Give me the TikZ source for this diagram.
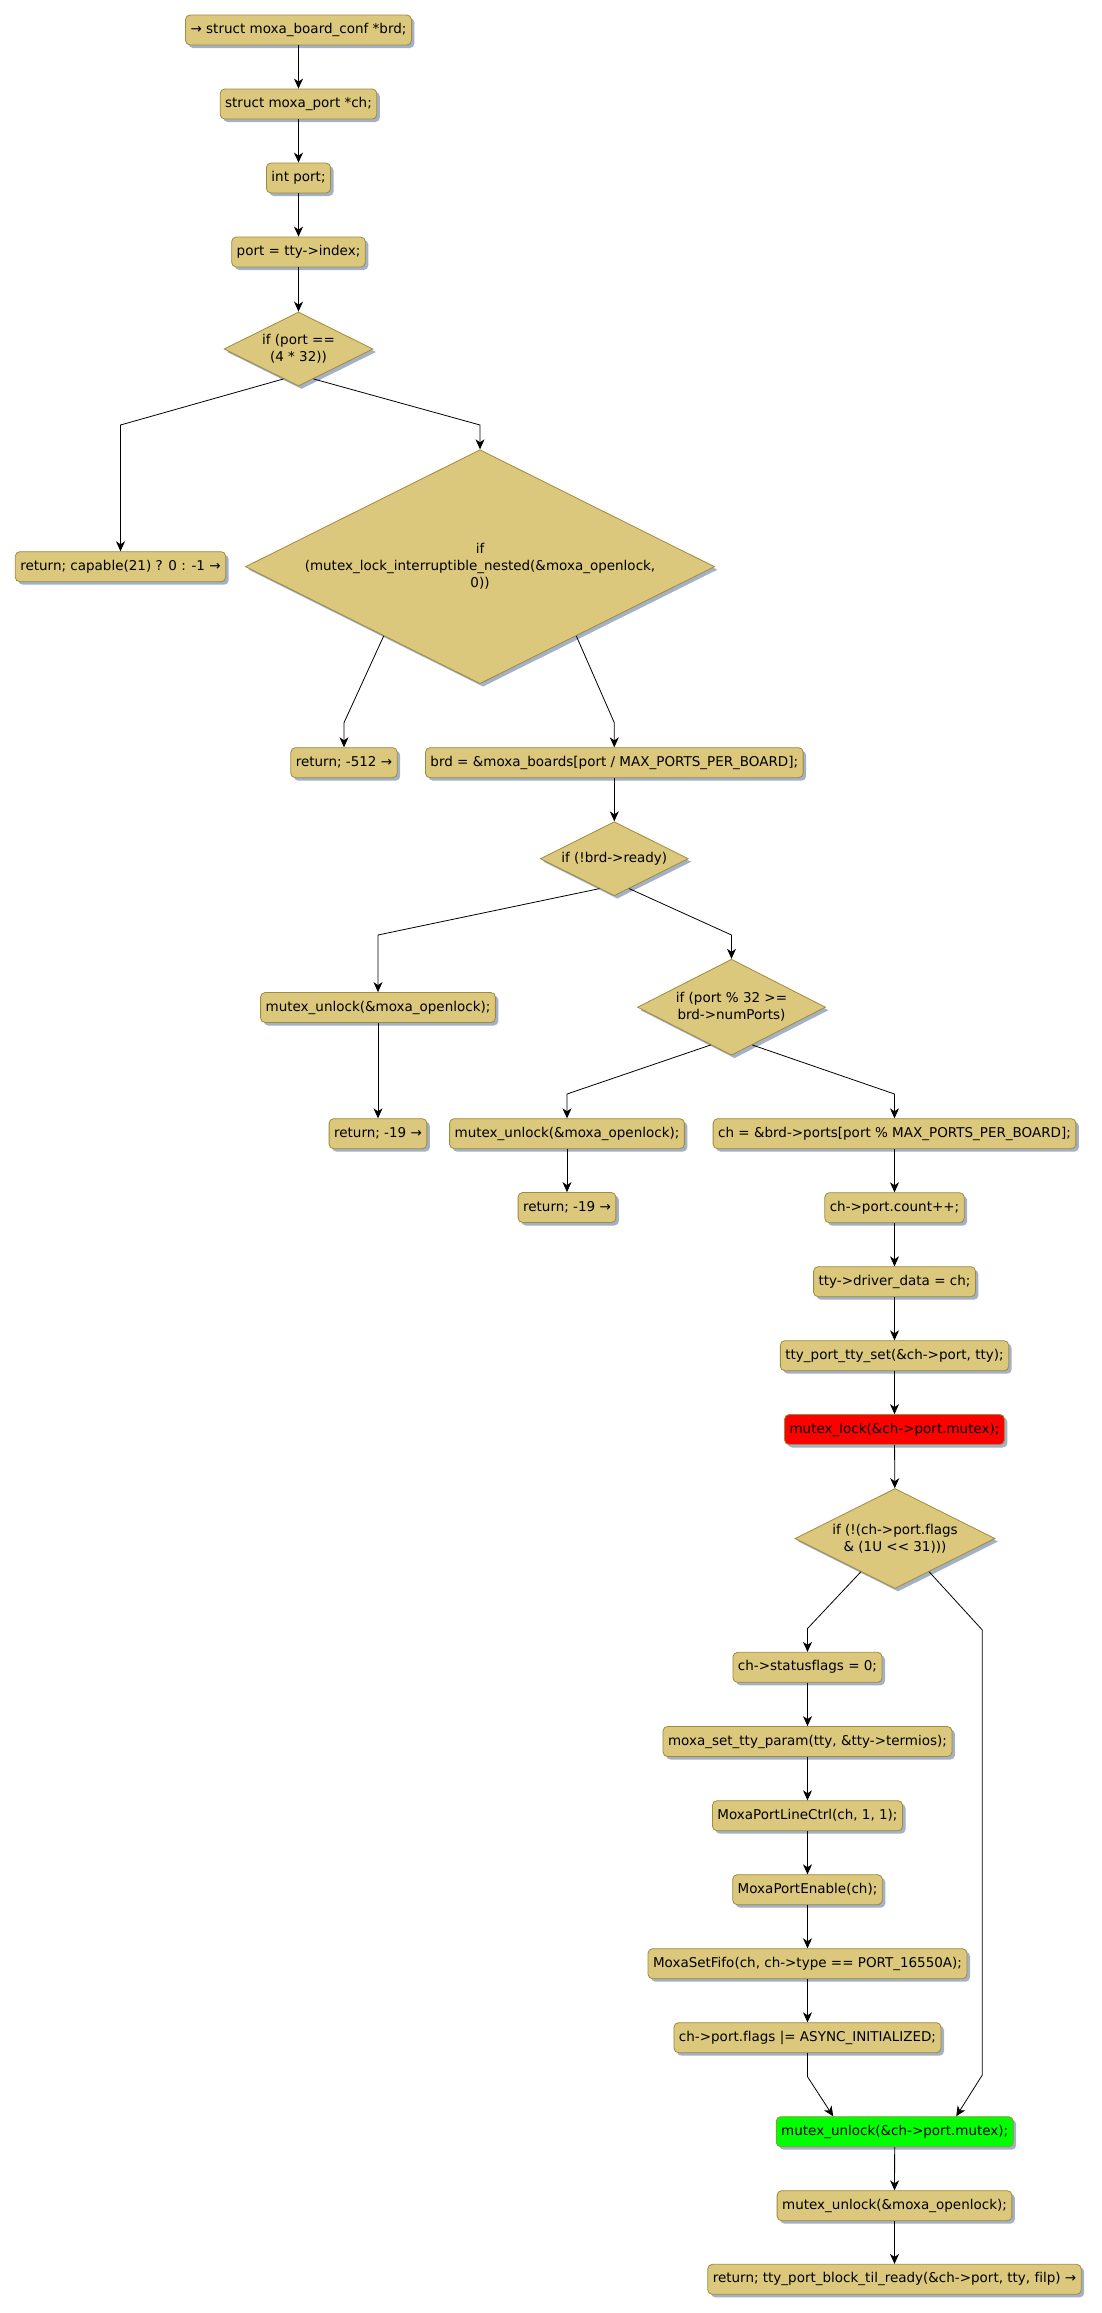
\documentclass[tikz,border=0pt]{standalone}
\usepackage{fontspec}
\setmainfont{DejaVu Sans}[Ligatures=NoCommon]
\usetikzlibrary{shapes.geometric,shadows,calc,arrows.meta}
\definecolor{boxfill}{HTML}{DBC87D}
\definecolor{boxline}{HTML}{A08A3C}
\definecolor{shadowc}{HTML}{A2B0C8}
\tikzset{
  x=1pt,y=-1pt,
  every node/.style={font=\fontsize{13.5}{17}\selectfont},
  act/.style={rectangle,rounded corners=4.5pt,draw=boxline,fill=boxfill,line width=0.8pt,
    minimum height=30pt,inner xsep=5pt,inner ysep=0pt,text height=10pt,text depth=3pt,
    copy shadow={shadow xshift=3pt,shadow yshift=-3pt,fill=shadowc,draw=none}},
  dec/.style={diamond,draw=boxline,fill=boxfill,line width=0.8pt,inner sep=0pt,align=center,aspect=2,
    copy shadow={shadow xshift=3pt,shadow yshift=-3pt,fill=shadowc,draw=none}},
  flow/.style={draw=black,line width=0.8pt,-{Stealth[length=10pt,width=9pt,inset=3pt]}},
}
\begin{document}
\begin{tikzpicture}
\useasboundingbox[fill=white] (0,0) rectangle (1101,2313);
% nodes
\node[act] (n1) at (298.5,30) {→ struct moxa\_board\_conf *brd;};
\node[act] (n2) at (298.5,104) {struct moxa\_port *ch;};
\node[act] (n3) at (298.5,178) {int port;};
\node[act] (n4) at (298.5,252) {port = tty->index;};
\node[dec,minimum width=149pt,minimum height=74pt] (d1) at (298.5,349) {if (port ==\\(4 * 32))};
\node[act] (r1) at (120.5,566.7) {return; capable(21) ? 0 : -1 →};
\node[dec,minimum width=469pt,minimum height=234pt] (d2) at (480,566.7) {if\\(mutex\_lock\_interruptible\_nested(\&moxa\_openlock,\\0))};
\node[act] (r2) at (344,762.7) {return; -512 →};
\node[act] (n5) at (614.3,762.7) {brd = \&moxa\_boards[port / MAX\_PORTS\_PER\_BOARD];};
\node[dec,minimum width=148pt,minimum height=74pt] (d3) at (614.3,858.7) {if (!brd->ready)};
\node[act] (n6) at (378,1007.5) {mutex\_unlock(\&moxa\_openlock);};
\node[act] (r3) at (378,1133.7) {return; -19 →};
\node[dec,aspect=1.96,minimum width=188pt,minimum height=96pt] (d4) at (731.5,1007.2) {if (port \% 32 >=\\brd->numPorts)};
\node[act] (n7) at (567,1133.7) {mutex\_unlock(\&moxa\_openlock);};
\node[act] (r4) at (567,1207.5) {return; -19 →};
\node[act] (n8) at (894.5,1133.7) {ch = \&brd->ports[port \% MAX\_PORTS\_PER\_BOARD];};
\node[act] (n9) at (894.5,1207.7) {ch->port.count++;};
\node[act] (n10) at (894.5,1281.7) {tty->driver\_data = ch;};
\node[act] (n11) at (894.5,1355.7) {tty\_port\_tty\_set(\&ch->port, tty);};
\node[act,fill=red] (n12) at (894.5,1429.5) {mutex\_lock(\&ch->port.mutex);};
\node[dec,minimum width=200pt,minimum height=100pt] (d5) at (895,1538.5) {if (!(ch->port.flags\\\& (1U <{}< 31)))};
\node[act] (n13) at (807.5,1667.3) {ch->statusflags = 0;};
\node[act] (n14) at (807.5,1741.5) {moxa\_set\_tty\_param(tty, \&tty->termios);};
\node[act] (n15) at (807.5,1815.7) {MoxaPortLineCtrl(ch, 1, 1);};
\node[act] (n16) at (807.5,1889.7) {MoxaPortEnable(ch);};
\node[act] (n17) at (807.5,1963.7) {MoxaSetFifo(ch, ch->type == PORT\_16550A);};
\node[act] (n18) at (807.5,2037.7) {ch->port.flags |= ASYNC\_INITIALIZED;};
\node[act,fill=green] (n19) at (894.7,2131.7) {mutex\_unlock(\&ch->port.mutex);};
\node[act] (n20) at (894.5,2205.7) {mutex\_unlock(\&moxa\_openlock);};
\node[act] (r5) at (894.5,2279.3) {return; tty\_port\_block\_til\_ready(\&ch->port, tty, filp) →};
% bend points
\coordinate (b1l) at (120.5,425);
\coordinate (b1r) at (480,425);
\coordinate (b2l) at (344,722.7);
\coordinate (b2r) at (614.3,722.7);
\coordinate (b3l) at (378,935);
\coordinate (b3r) at (731.5,935);
\coordinate (b4l) at (567,1094);
\coordinate (b4r) at (894.5,1094);
\coordinate (b5l) at (807.5,1628.5);
\coordinate (b5r) at (982.3,1630);
\coordinate (b5rr) at (982.3,2075);
\coordinate (b6) at (807.5,2076.7);
% connectors
\draw[flow] (n1) -- (n2);
\draw[flow] (n2) -- (n3);
\draw[flow] (n3) -- (n4);
\draw[flow] (n4) -- (d1);
\draw[flow] ($(d1.south)!0.2!(d1.west)$) -- (b1l) -- (r1.north);
\draw[flow] ($(d1.south)!0.2!(d1.east)$) -- (b1r) -- (d2.north);
\draw[flow] ($(d2.south)!0.41!(d2.west)$) -- (b2l) -- (r2.north);
\draw[flow] ($(d2.south)!0.41!(d2.east)$) -- (b2r) -- (n5.north);
\draw[flow] (n5) -- (d3);
\draw[flow] ($(d3.south)!0.2!(d3.west)$) -- (b3l) -- (n6.north);
\draw[flow] ($(d3.south)!0.2!(d3.east)$) -- (b3r) -- (d4.north);
\draw[flow] (n6) -- (r3);
\draw[flow] ($(d4.south)!0.22!(d4.west)$) -- (b4l) -- (n7.north);
\draw[flow] ($(d4.south)!0.22!(d4.east)$) -- (b4r) -- (n8.north);
\draw[flow] (n7) -- (r4);
\draw[flow] (n8) -- (n9);
\draw[flow] (n9) -- (n10);
\draw[flow] (n10) -- (n11);
\draw[flow] (n11) -- (n12);
\draw[flow] (n12) -- (d5);
\draw[flow] ($(d5.south)!0.34!(d5.west)$) -- (b5l) -- (n13.north);
\draw[flow] ($(d5.south)!0.34!(d5.east)$) -- (b5r) -- (b5rr) -- ($(n19.north)+(61.5,0)$);
\draw[flow] (n13) -- (n14);
\draw[flow] (n14) -- (n15);
\draw[flow] (n15) -- (n16);
\draw[flow] (n16) -- (n17);
\draw[flow] (n17) -- (n18);
\draw[flow] (n18) -- (b6) -- ($(n19.north)+(-61.5,0)$);
\draw[flow] (n19) -- (n20);
\draw[flow] (n20) -- (r5);
\end{tikzpicture}
\end{document}
